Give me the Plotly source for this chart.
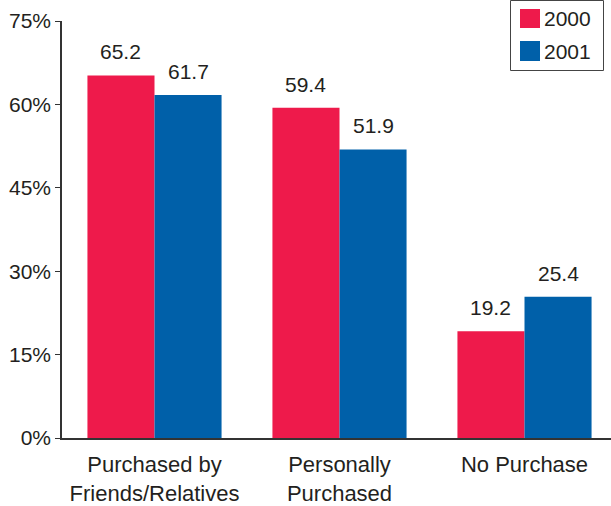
import plotly.graph_objects as go

categories = ["Purchased by<br>Friends/Relatives", "Personally<br>Purchased", "No Purchase"]
series_names = ["2000", "2001"]
values_2000 = [65.2, 59.4, 19.2]
values_2001 = [61.7, 51.9, 25.4]
y_ticks = [0, 15, 30, 45, 60, 75]
y_tick_labels = ["0%", "15%", "30%", "45%", "60%", "75%"]

RED = "#EE1A4B"
BLUE = "#0060A9"
TXT = "#231F20"
FONT = "Liberation Sans, Arial, sans-serif"

W, H = 611, 506
ML, MR, MT, MB = 62, 0, 21, 68
PW, PH = W - ML - MR, H - MT - MB
STEP = 185.0

def px_x(x):
    return (x - ML) / PW

def px_y(y):
    return (H - MB - y) / PH

fig = go.Figure()
for name, vals, col in [(series_names[0], values_2000, RED), (series_names[1], values_2001, BLUE)]:
    fig.add_trace(go.Bar(x=categories, y=vals, name=name, marker=dict(color=col, line=dict(width=0)),
                         showlegend=False))

annotations = []
half = STEP * (1 - 0.275) / 4
for vals, sh in [(values_2000, -half), (values_2001, half)]:
    for c, v in zip(categories, vals):
        annotations.append(dict(x=c, y=v, xref="x", yref="y", text=f"{v:.1f}", showarrow=False,
                                xshift=sh, yshift=10, yanchor="bottom",
                                font=dict(size=21, color=TXT, family=FONT)))

# legend (manual)
shapes = [
    dict(type="rect", xref="paper", yref="paper", x0=px_x(510.5), x1=px_x(603.5), y0=px_y(70.5), y1=px_y(0.5),
         line=dict(color="#444444", width=1), fillcolor="white"),
    dict(type="rect", xref="paper", yref="paper", x0=px_x(520), x1=px_x(540), y0=px_y(28), y1=px_y(9),
         line=dict(width=0), fillcolor=RED),
    dict(type="rect", xref="paper", yref="paper", x0=px_x(520), x1=px_x(540), y0=px_y(61), y1=px_y(41),
         line=dict(width=0), fillcolor=BLUE),
]
for name, yc in [(series_names[0], 18.5), (series_names[1], 51.5)]:
    annotations.append(dict(x=px_x(542), y=px_y(yc), xref="paper", yref="paper", text=name, showarrow=False,
                            xanchor="left", yanchor="middle", font=dict(size=21, color=TXT, family=FONT)))

fig.update_layout(
    width=W, height=H, margin=dict(l=ML, r=MR, t=MT, b=MB),
    paper_bgcolor="white", plot_bgcolor="white",
    barmode="group", bargap=0.275, bargroupgap=0,
    font=dict(family=FONT, size=21, color=TXT),
    shapes=shapes, annotations=annotations,
    xaxis=dict(range=[-0.5, -0.5 + PW / STEP], showline=True, linecolor="#333333", linewidth=1.5,
               ticks="", showgrid=False, zeroline=False, tickfont=dict(size=22, color=TXT),
               ticklabelstandoff=6, fixedrange=True),
    yaxis=dict(range=[0, 75], tickvals=y_ticks, ticktext=y_tick_labels, showline=True,
               linecolor="#333333", linewidth=1.5, ticks="outside", ticklen=5, tickcolor="#333333",
               showgrid=False, zeroline=False, tickfont=dict(size=21, color=TXT), fixedrange=True),
)

fig.write_html("out.html")
